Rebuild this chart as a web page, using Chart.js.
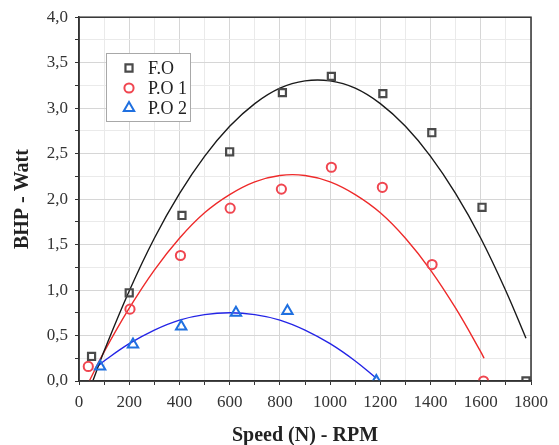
<!DOCTYPE html>
<html>
<head>
<meta charset="utf-8">
<script src="https://cdn.jsdelivr.net/npm/chart.js@4"></script>
<style>
  html, body { margin: 0; padding: 0; background: #fff; }
  #wrap { width: 559px; height: 445px; position: relative; }
</style>
</head>
<body>
<div id="wrap"><canvas id="c"></canvas></div>
<script>
// ===== Datos medidos (Speed RPM / BHP Watt) =====
const rpmFO  = [50, 200, 410, 600, 810, 1005, 1210, 1405, 1605, 1780];
const bhpFO  = [0.27, 0.97, 1.82, 2.52, 3.17, 3.35, 3.16, 2.73, 1.91, 0.0];
const rpmPO1 = [37, 203, 404, 602, 806, 1005, 1208, 1406, 1611];
const bhpPO1 = [0.16, 0.79, 1.38, 1.90, 2.11, 2.35, 2.13, 1.28, 0.0];
const rpmPO2 = [84, 215, 407, 625, 830, 1184];
const bhpPO2 = [0.16, 0.40, 0.60, 0.75, 0.77, 0.0];

// ===== Curvas de ajuste =====
const fitRpmFO  = [55, 100, 200, 300, 400, 500, 600, 700, 800, 900, 1000, 1100, 1200, 1300, 1400, 1500, 1600, 1700, 1780];
const fitBhpFO  = [0.0, 0.33, 0.99, 1.57, 2.06, 2.47, 2.80, 3.05, 3.22, 3.30, 3.30, 3.22, 3.05, 2.80, 2.47, 2.06, 1.57, 0.99, 0.47];
const fitRpmPO1 = [41, 100, 200, 300, 400, 500, 600, 700, 800, 900, 1000, 1100, 1200, 1300, 1400, 1500, 1600, 1613];
const fitBhpPO1 = [0.0, 0.32, 0.80, 1.22, 1.57, 1.85, 2.05, 2.19, 2.26, 2.26, 2.19, 2.05, 1.85, 1.57, 1.22, 0.80, 0.32, 0.25];
const fitRpmPO2 = [73, 100, 200, 300, 400, 500, 600, 700, 800, 900, 1000, 1100, 1184];
const fitBhpPO2 = [0.16, 0.22, 0.41, 0.56, 0.67, 0.73, 0.75, 0.73, 0.67, 0.56, 0.41, 0.22, 0.03];

const seriesNames = ['F.O', 'P.O 1', 'P.O 2'];

const SERIF = '"Liberation Serif", "Times New Roman", serif';
const pts = (xs, ys) => xs.map((x, i) => ({ x, y: ys[i] }));
const isMult = (v, step) => Math.abs(v / step - Math.round(v / step)) < 1e-6;

// marco completo alrededor del área + leyenda dentro del gráfico
const framePlugin = {
    id: 'frame',
    afterDatasetsDraw(chart) {
        const { ctx, chartArea: a } = chart;
        ctx.save();
        ctx.strokeStyle = '#333';
        ctx.lineWidth = 1.5;
        ctx.strokeRect(a.left, a.top, a.right - a.left, a.bottom - a.top);

        // caja de leyenda
        ctx.fillStyle = '#fff';
        ctx.fillRect(106, 53, 84, 68);
        ctx.strokeStyle = '#a8a8a8';
        ctx.lineWidth = 1;
        ctx.strokeRect(106.5, 53.5, 84, 68);

        chart.data.datasets.slice(0, 3).forEach((ds, i) => {
            const y = 68 + i * 20;
            ctx.strokeStyle = ds.borderColor;
            ctx.fillStyle = 'rgba(0,0,0,0)';
            ctx.lineWidth = ds.borderWidth;
            Chart.helpers.drawPoint(ctx, {
                pointStyle: ds.pointStyle, radius: ds.pointRadius, borderWidth: ds.borderWidth
            }, 129, y);
            ctx.fillStyle = '#222';
            ctx.font = '18px ' + SERIF;
            ctx.textBaseline = 'middle';
            ctx.textAlign = 'left';
            ctx.fillText(ds.label, 148, y + 1);
        });
        ctx.restore();
    }
};

new Chart(document.getElementById('c'), {
    type: 'scatter',
    data: {
        datasets: [
            { label: seriesNames[0], data: pts(rpmFO, bhpFO), pointStyle: 'rect', pointRadius: 5, borderWidth: 2.2,
              borderColor: '#4a4a4a', backgroundColor: 'rgba(0,0,0,0)', clip: 0, order: 0 },
            { label: seriesNames[1], data: pts(rpmPO1, bhpPO1), pointStyle: 'circle', pointRadius: 4.6, borderWidth: 2,
              borderColor: '#f04650', backgroundColor: 'rgba(0,0,0,0)', clip: 0, order: 0 },
            { label: seriesNames[2], data: pts(rpmPO2, bhpPO2), pointStyle: 'triangle', pointRadius: 6, borderWidth: 2,
              borderColor: '#1f70e0', backgroundColor: 'rgba(0,0,0,0)', clip: 0, order: 0 },
            { label: 'fit F.O', data: pts(fitRpmFO, fitBhpFO), showLine: true, pointRadius: 0, borderWidth: 1.4,
              borderColor: '#1a1a1a', tension: 0.4, clip: 0, order: 1 },
            { label: 'fit P.O 1', data: pts(fitRpmPO1, fitBhpPO1), showLine: true, pointRadius: 0, borderWidth: 1.4,
              borderColor: '#ee2a2a', tension: 0.4, clip: 0, order: 1 },
            { label: 'fit P.O 2', data: pts(fitRpmPO2, fitBhpPO2), showLine: true, pointRadius: 0, borderWidth: 1.4,
              borderColor: '#2424e6', tension: 0.4, clip: 0, order: 1 }
        ]
    },
    options: {
        responsive: true,
        maintainAspectRatio: false,
        animation: false,
        layout: { padding: { top: 17, right: 28, left: 0, bottom: 0 } },
        plugins: { legend: { display: false }, tooltip: { enabled: false } },
        scales: {
            x: {
                type: 'linear', min: 0, max: 1800,
                afterFit: (s) => { s.height = 64; },
                grid: {
                    color: (c) => (c.tick && isMult(c.tick.value, 200)) ? '#d6d6d6' : '#eaeaea',
                    tickColor: '#333', tickLength: 4, lineWidth: 1
                },
                border: { display: true, color: '#333', width: 1.5 },
                ticks: {
                    stepSize: 100, maxTicksLimit: 50, autoSkip: false, maxRotation: 0, padding: 7,
                    color: '#333', font: { family: SERIF, size: 17 },
                    callback: (v) => isMult(v, 200) ? String(v) : ''
                },
                title: {
                    display: true, text: 'Speed (N) - RPM', color: '#222',
                    font: { family: SERIF, size: 20, weight: 'bold', lineHeight: 0.8 },
                    padding: { top: 0, bottom: 1 }
                }
            },
            y: {
                type: 'linear', min: 0, max: 4,
                afterFit: (s) => { s.width = 79; },
                grid: {
                    color: (c) => (c.tick && isMult(c.tick.value, 0.5)) ? '#d6d6d6' : '#eaeaea',
                    tickColor: '#333', tickLength: 4, lineWidth: 1
                },
                border: { display: true, color: '#333', width: 1.5 },
                ticks: {
                    stepSize: 0.25, maxTicksLimit: 50, autoSkip: false, padding: 7,
                    color: '#333', font: { family: SERIF, size: 17 },
                    callback: (v) => isMult(v, 0.5) ? v.toFixed(1).replace('.', ',') : ''
                },
                title: {
                    display: true, text: 'BHP - Watt', color: '#222',
                    font: { family: SERIF, size: 20, weight: 'bold' },
                    padding: { top: 11, bottom: 0 }
                }
            }
        }
    },
    plugins: [framePlugin]
});
</script>
</body>
</html>
